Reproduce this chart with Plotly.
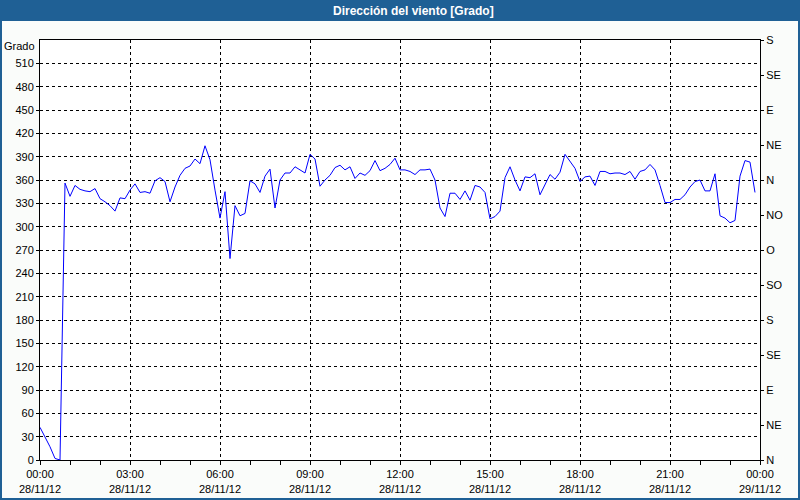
import plotly.graph_objects as go
import pandas as pd

# ---- data ----
start_time = "2012-11-28 00:00"
step_minutes = 10
direction_deg = [42, 30, 17, 2, 0, 356, 339, 353, 348, 346, 345, 349, 336, 332, 327, 320,
                 337, 336, 347, 355, 344, 345, 343, 359, 363, 358, 332, 351, 366, 375, 378,
                 387, 381, 404, 386, 347, 311, 345, 259, 327, 314, 317, 359, 355, 344, 365,
                 374, 324, 360, 369, 369, 377, 373, 369, 393, 387, 352, 360, 366, 376, 379,
                 373, 377, 362, 369, 366, 372, 385, 372, 375, 380, 388, 373, 373, 371, 367,
                 373, 373, 374, 360, 324, 313, 343, 343, 335, 346, 334, 353, 351, 344, 310,
                 313, 320, 363, 377, 360, 346, 364, 363, 368, 341, 354, 367, 361, 370, 393,
                 384, 375, 358, 364, 365, 353, 371, 371, 368, 369, 369, 367, 371, 361, 371,
                 373, 380, 373, 353, 331, 331, 335, 335, 341, 351, 358, 360, 346, 346, 368,
                 314, 311, 305, 308, 365, 385, 383, 344]
left_ticks = list(range(0, 511, 30))
right_tick_vals = list(range(0, 541, 45))
right_tick_text = ["N", "NE", "E", "SE", "S", "SO", "O", "NO", "N", "NE", "E", "SE", "S"]
x_start = "2012-11-28 00:00"
x_end = "2012-11-29 00:00"
title_text = "Dirección del viento [Grado]"
unit_label = "Grado"

times = pd.date_range(start=start_time, periods=len(direction_deg), freq=f"{step_minutes}min")

FONT = "Liberation Sans"
W, H = 800, 500
ML, MR, MT, MB = 40, 40, 40, 40
PW, PH = W - ML - MR, H - MT - MB

fig = go.Figure()
fig.add_trace(go.Scatter(x=times, y=direction_deg, mode="lines",
                         line=dict(color="#0000ff", width=1), showlegend=False,
                         hoverinfo="skip"))
# invisible trace for the right axis
fig.add_trace(go.Scatter(x=[times[0]], y=[0], yaxis="y2", mode="markers",
                         marker=dict(opacity=0), showlegend=False, hoverinfo="skip"))

fig.update_layout(
    width=W, height=H,
    margin=dict(l=ML, r=MR, t=MT, b=MB, pad=0, autoexpand=False),
    paper_bgcolor="#fafcfa",
    plot_bgcolor="#ffffff",
    font=dict(family=FONT, size=11, color="#000000"),
    xaxis=dict(
        type="date", range=[x_start, x_end], automargin=False,
        dtick=3 * 3600 * 1000, tick0=x_start,
        tickformat="%H:%M<br>%d/%m/%y",
        showgrid=True, gridcolor="#000000", gridwidth=1, griddash="3px,3px",
        showline=True, linecolor="#000000", linewidth=1, mirror=True,
        ticks="outside", ticklen=4, tickcolor="#000000",
        minor=dict(dtick=3600 * 1000, ticks="outside", ticklen=4, tickcolor="#000000",
                   showgrid=False),
        zeroline=False,
        tickfont=dict(family=FONT, size=11),
    ),
    yaxis=dict(
        range=[0, 540], tickvals=left_ticks, automargin=False,
        showgrid=True, gridcolor="#000000", gridwidth=1, griddash="3px,3px",
        showline=True, linecolor="#000000", linewidth=1, mirror=True,
        ticks="outside", ticklen=3, tickcolor="#000000",
        zeroline=False,
        tickfont=dict(family=FONT, size=11),
    ),
    yaxis2=dict(
        range=[0, 540], tickvals=right_tick_vals, ticktext=right_tick_text,
        overlaying="y", side="right", showgrid=False, zeroline=False, automargin=False,
        showline=False, ticks="outside", ticklen=3, tickcolor="#000000",
        tickfont=dict(family=FONT, size=11),
    ),
)

# title bar
fig.add_shape(type="rect", xref="paper", yref="paper",
              x0=-ML / PW, x1=1 + MR / PW, y0=1 + (MT - 21) / PH, y1=1 + MT / PH,
              fillcolor="#1f6095", line=dict(width=0), layer="above")
fig.add_annotation(xref="paper", yref="paper", x=(413 - ML) / PW, y=1 + (MT - 10.5) / PH,
                   text="<b>" + title_text + "</b>", showarrow=False,
                   xanchor="center", yanchor="middle",
                   font=dict(family=FONT, size=12, color="#ffffff"))
# outer border
fig.add_shape(type="rect", xref="paper", yref="paper",
              x0=-(ML - 1) / PW, x1=1 + (MR - 1) / PW, y0=-(MB - 1) / PH, y1=1 + MT / PH,
              line=dict(color="#1f6095", width=2), layer="above")
# unit label
fig.add_annotation(xref="paper", yref="paper", x=0, y=1, xshift=-3, yshift=-6,
                   text=unit_label, showarrow=False, xanchor="right", yanchor="middle",
                   font=dict(family=FONT, size=11, color="#000000"))

fig.write_html("out.html",
               config={"displayModeBar": False, "staticPlot": True},
               post_script="document.body.style.margin='0';document.body.style.padding='0';"
                           "document.body.style.overflow='hidden';")
